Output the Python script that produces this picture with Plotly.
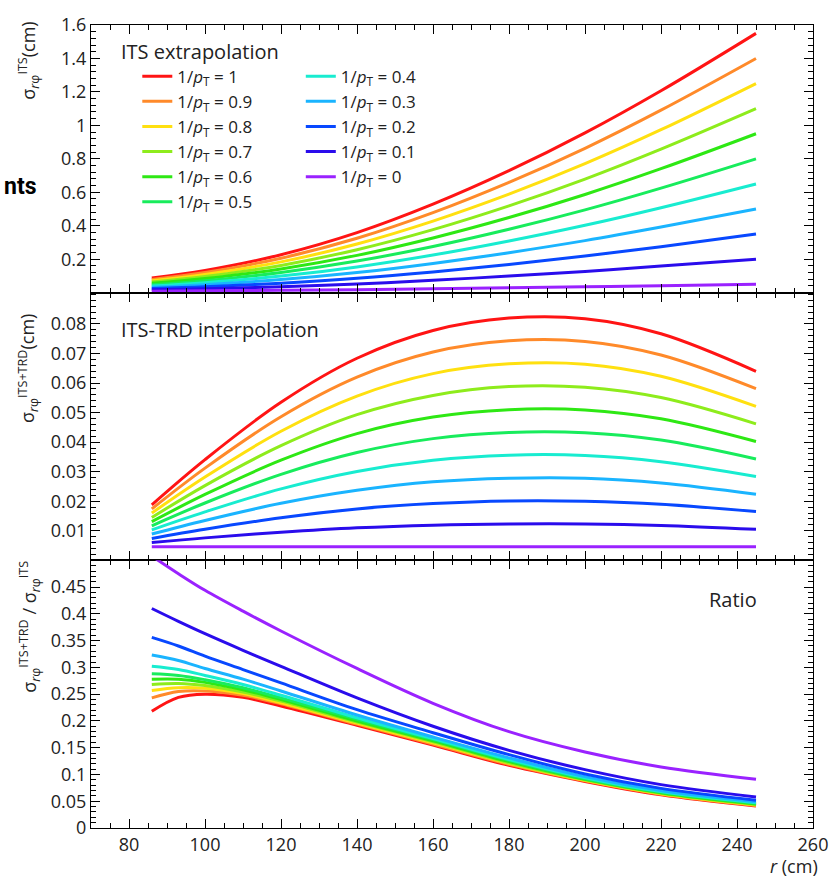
import plotly.graph_objects as go
from plotly.subplots import make_subplots

# ---------------- data ----------------
inv_pt = ["1", "0.9", "0.8", "0.7", "0.6", "0.5", "0.4", "0.3", "0.2", "0.1", "0"]
colors = ["#ff1414", "#ff8a2a", "#ffe010", "#8eec1c", "#2ee814", "#18ec5c",
          "#18ecd0", "#1ab4ff", "#0848ff", "#2a0cec", "#9a22ff"]

r_main = [86, 100, 120, 140, 160, 180, 200, 220, 245]
r_ratio = [86, 93, 100, 110, 120, 140, 160, 180, 200, 220, 245]

# ITS extrapolation sigma (cm), one row per 1/pT
sigma_its = [
    [0.087, 0.133, 0.227, 0.359, 0.529, 0.729, 0.955, 1.207, 1.55],
    [0.079, 0.121, 0.206, 0.325, 0.478, 0.659, 0.863, 1.091, 1.40],
    [0.071, 0.109, 0.184, 0.291, 0.428, 0.589, 0.771, 0.974, 1.25],
    [0.064, 0.096, 0.163, 0.257, 0.377, 0.519, 0.679, 0.858, 1.10],
    [0.056, 0.084, 0.142, 0.223, 0.327, 0.449, 0.587, 0.741, 0.95],
    [0.048, 0.072, 0.121, 0.189, 0.276, 0.379, 0.495, 0.625, 0.80],
    [0.040, 0.060, 0.099, 0.154, 0.225, 0.309, 0.403, 0.508, 0.65],
    [0.032, 0.048, 0.078, 0.120, 0.175, 0.239, 0.311, 0.392, 0.50],
    [0.025, 0.035, 0.057, 0.086, 0.124, 0.169, 0.219, 0.275, 0.35],
    [0.017, 0.023, 0.035, 0.052, 0.074, 0.099, 0.127, 0.159, 0.20],
    [0.009, 0.011, 0.014, 0.018, 0.023, 0.029, 0.035, 0.042, 0.05],
]

# ITS-TRD interpolation sigma (cm)
sigma_its_trd = [
    [0.0188, 0.0341, 0.0535, 0.0684, 0.0778, 0.0820, 0.0818, 0.0767, 0.0640],
    [0.0174, 0.0312, 0.0486, 0.0620, 0.0705, 0.0743, 0.0741, 0.0695, 0.0581],
    [0.0160, 0.0282, 0.0437, 0.0556, 0.0632, 0.0665, 0.0664, 0.0623, 0.0521],
    [0.0145, 0.0253, 0.0388, 0.0493, 0.0558, 0.0588, 0.0586, 0.0551, 0.0462],
    [0.0131, 0.0223, 0.0339, 0.0429, 0.0485, 0.0510, 0.0509, 0.0479, 0.0402],
    [0.0117, 0.0194, 0.0291, 0.0365, 0.0412, 0.0433, 0.0432, 0.0407, 0.0343],
    [0.0103, 0.0164, 0.0242, 0.0301, 0.0339, 0.0356, 0.0355, 0.0334, 0.0284],
    [0.0089, 0.0135, 0.0193, 0.0237, 0.0266, 0.0278, 0.0278, 0.0262, 0.0224],
    [0.0074, 0.0105, 0.0144, 0.0174, 0.0192, 0.0201, 0.0200, 0.0190, 0.0165],
    [0.0060, 0.0076, 0.0095, 0.0110, 0.0119, 0.0123, 0.0123, 0.0118, 0.0105],
    [0.0046, 0.0046, 0.0046, 0.0046, 0.0046, 0.0046, 0.0046, 0.0046, 0.0046],
]

# Ratio sigma(ITS+TRD) / sigma(ITS)
ratio = [
    [0.218, 0.244, 0.250, 0.244, 0.228, 0.192, 0.155, 0.117, 0.087, 0.062, 0.041],
    [0.243, 0.255, 0.256, 0.248, 0.232, 0.194, 0.157, 0.119, 0.088, 0.063, 0.042],
    [0.257, 0.262, 0.261, 0.251, 0.234, 0.196, 0.159, 0.121, 0.089, 0.064, 0.043],
    [0.268, 0.270, 0.266, 0.254, 0.237, 0.198, 0.161, 0.122, 0.090, 0.065, 0.044],
    [0.278, 0.278, 0.272, 0.258, 0.240, 0.200, 0.163, 0.124, 0.091, 0.066, 0.045],
    [0.288, 0.285, 0.277, 0.262, 0.243, 0.203, 0.165, 0.126, 0.092, 0.067, 0.046],
    [0.302, 0.296, 0.285, 0.268, 0.248, 0.206, 0.167, 0.128, 0.094, 0.068, 0.047],
    [0.323, 0.313, 0.298, 0.278, 0.256, 0.211, 0.170, 0.131, 0.096, 0.070, 0.049],
    [0.356, 0.340, 0.321, 0.296, 0.271, 0.221, 0.178, 0.137, 0.101, 0.074, 0.052],
    [0.410, 0.386, 0.363, 0.332, 0.302, 0.243, 0.190, 0.145, 0.109, 0.081, 0.058],
    [0.508, 0.475, 0.444, 0.405, 0.368, 0.298, 0.233, 0.180, 0.142, 0.114, 0.091],
]

x_ticks = [80, 100, 120, 140, 160, 180, 200, 220, 240, 260]
y1_ticks = [0.2, 0.4, 0.6, 0.8, 1.0, 1.2, 1.4, 1.6]
y1_text = ["0.2", "0.4", "0.6", "0.8", "1", "1.2", "1.4", "1.6"]
y2_ticks = [0.01, 0.02, 0.03, 0.04, 0.05, 0.06, 0.07, 0.08]
y2_text = ["0.01", "0.02", "0.03", "0.04", "0.05", "0.06", "0.07", "0.08"]
y3_ticks = [0, 0.05, 0.1, 0.15, 0.2, 0.25, 0.3, 0.35, 0.4, 0.45]
y3_text = ["0", "0.05", "0.1", "0.15", "0.2", "0.25", "0.3", "0.35", "0.4", "0.45"]

# ---------------- figure ----------------
FONT = "Open Sans"
W, H = 840, 879
ML, MR, MT, MB = 91, 16, 18, 51

fig = make_subplots(rows=3, cols=1, shared_xaxes=True, vertical_spacing=0)

for i, lab in enumerate(inv_pt):
    name = "1/<i>p</i><sub>T</sub> = " + lab
    fig.add_trace(go.Scatter(x=r_main, y=sigma_its[i], mode="lines", name=name,
                             line=dict(color=colors[i], width=3, shape="spline"),
                             legend="legend" if i < 6 else "legend2",
                             showlegend=True), row=1, col=1)
for i, lab in enumerate(inv_pt):
    fig.add_trace(go.Scatter(x=r_main, y=sigma_its_trd[i], mode="lines",
                             line=dict(color=colors[i], width=3, shape="spline"),
                             showlegend=False), row=2, col=1)
for i, lab in enumerate(inv_pt):
    fig.add_trace(go.Scatter(x=r_ratio, y=ratio[i], mode="lines",
                             line=dict(color=colors[i], width=3, shape="spline"),
                             showlegend=False), row=3, col=1)

axis_common = dict(showline=True, linecolor="black", linewidth=1.2, mirror="ticks",
                   ticks="inside", tickcolor="black", tickwidth=1.2, ticklen=9,
                   showgrid=False, zeroline=False,
                   tickfont=dict(family=FONT, size=18, color="#222"))

for row in (1, 2, 3):
    fig.update_xaxes(range=[70, 260], tickmode="array", tickvals=x_ticks,
                     minor=dict(ticks="inside", ticklen=5, tickcolor="black", tickwidth=1.2,
                                tickmode="linear", tick0=0, dtick=5),
                     showticklabels=(row == 3), row=row, col=1, **axis_common)

fig.update_yaxes(range=[0, 1.6], tickmode="array", tickvals=y1_ticks, ticktext=y1_text,
                 minor=dict(ticks="inside", ticklen=5, tickcolor="black", tickwidth=1.2,
                            tickmode="linear", tick0=0, dtick=0.04),
                 row=1, col=1, **axis_common)
fig.update_yaxes(range=[0, 0.0906], tickmode="array", tickvals=y2_ticks, ticktext=y2_text,
                 minor=dict(ticks="inside", ticklen=5, tickcolor="black", tickwidth=1.2,
                            tickmode="linear", tick0=0, dtick=0.002),
                 row=2, col=1, **axis_common)
fig.update_yaxes(range=[0, 0.5], tickmode="array", tickvals=y3_ticks, ticktext=y3_text,
                 minor=dict(ticks="inside", ticklen=5, tickcolor="black", tickwidth=1.2,
                            tickmode="linear", tick0=0, dtick=0.01),
                 row=3, col=1, **axis_common)


def px(x):
    return (x - ML) / (W - ML - MR)


def py(y):
    return (H - MB - y) / (H - MT - MB)


ann = []
txt_font = dict(family=FONT, size=20, color="#222")
ann.append(dict(text="ITS extrapolation", x=px(119), y=py(45), xanchor="left", yanchor="middle",
                font=txt_font))
ann.append(dict(text="ITS-TRD interpolation", x=px(119), y=py(325), xanchor="left", yanchor="middle",
                font=txt_font))
ann.append(dict(text="Ratio", x=px(769), y=py(598), xanchor="right", yanchor="middle",
                font=txt_font))
ann.append(dict(text="<i>r</i> (cm)", x=px(831), y=py(866), xanchor="right", yanchor="middle",
                font=dict(family=FONT, size=18, color="#222")))
ytf = dict(family=FONT, size=18, color="#222")
ann.append(dict(text="σ<sub><i>r</i>φ</sub><sup>ITS</sup>(cm)", x=px(27), y=py(54),
                xanchor="center", yanchor="middle", textangle=-90, font=ytf))
ann.append(dict(text="σ<sub><i>r</i>φ</sub><sup>ITS+TRD</sup>(cm)", x=px(27), y=py(364),
                xanchor="center", yanchor="middle", textangle=-90, font=ytf))
ann.append(dict(text="σ<sub><i>r</i>φ</sub><sup>ITS+TRD</sup> / σ<sub><i>r</i>φ</sub><sup>ITS</sup>",
                x=px(28), y=py(625), xanchor="center", yanchor="middle", textangle=-90, font=ytf))
ann.append(dict(text="<b>nts</b>", x=px(38), y=py(181), xanchor="right", yanchor="middle",
                font=dict(family="Roboto", size=23, color="black")))
for a in ann:
    a.update(xref="paper", yref="paper", showarrow=False)

leg_font = dict(family=FONT, size=17, color="#222")
fig.update_layout(
    width=W, height=H, margin=dict(l=ML, r=MR, t=MT, b=MB),
    paper_bgcolor="white", plot_bgcolor="white",
    annotations=ann,
    legend=dict(x=px(138), y=py(52), xanchor="left", yanchor="top", bgcolor="rgba(0,0,0,0)",
                font=leg_font, tracegroupgap=0, itemwidth=30),
    legend2=dict(x=px(304), y=py(52), xanchor="left", yanchor="top", bgcolor="rgba(0,0,0,0)",
                 font=leg_font, tracegroupgap=0, itemwidth=30),
)

fig.write_html("out.html")
